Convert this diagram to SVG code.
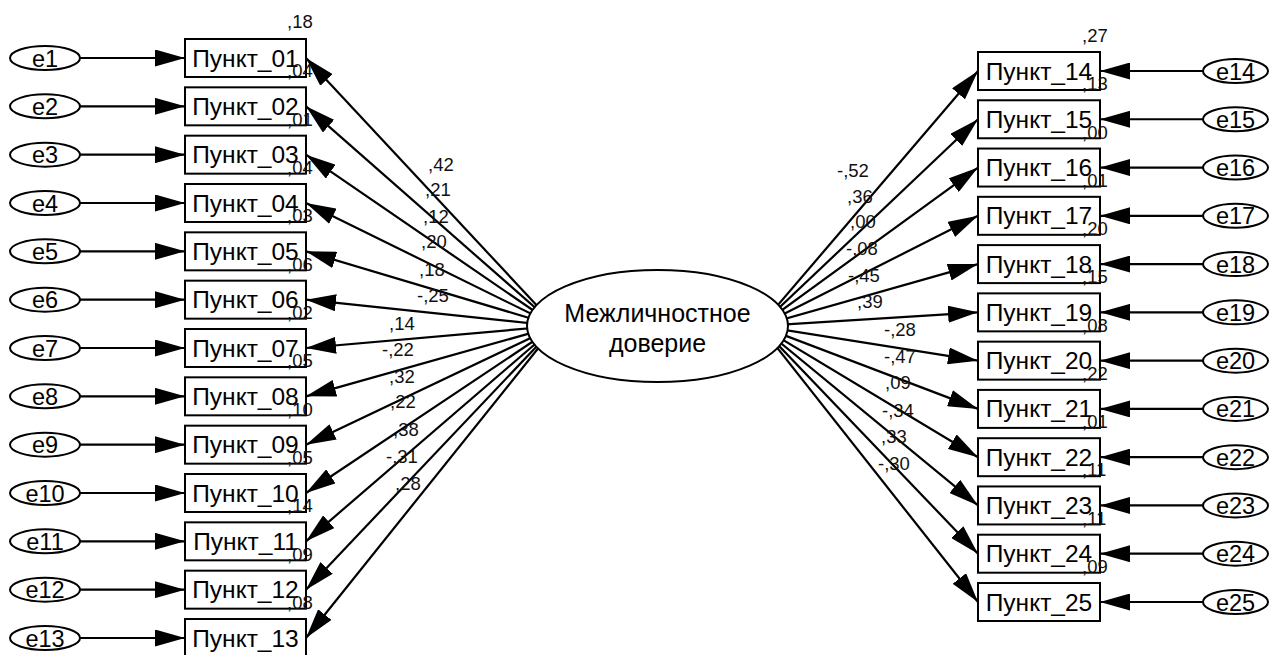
<svg xmlns="http://www.w3.org/2000/svg" width="1271" height="655" viewBox="0 0 1271 655">
<defs>
<style>
.c{stroke:#000;stroke-width:2.2;fill:none;marker-end:url(#ah)}
.b{fill:#fff;stroke:#000;stroke-width:2}
.t{font-family:"Liberation Sans",Arial,sans-serif;font-size:24.5px;fill:#000;text-anchor:middle}
.e{font-family:"Liberation Sans",Arial,sans-serif;font-size:23.5px;fill:#000;text-anchor:middle}
.n{font-family:"Liberation Sans",Arial,sans-serif;font-size:18.5px;fill:#111}
</style>
<marker id="ah" markerUnits="userSpaceOnUse" markerWidth="30" markerHeight="17" viewBox="0 0 30 17" refX="30" refY="8.5" orient="auto">
<path d="M0,0 L30,8.5 L0,17 z" fill="#000"/>
</marker>
</defs>
<rect width="1271" height="655" fill="#fff"/>
<g id="connectors">
<line class="c" x1="80" y1="58" x2="185" y2="58"/>
<line class="c" x1="80" y1="106.33" x2="185" y2="106.33"/>
<line class="c" x1="80" y1="154.67" x2="185" y2="154.67"/>
<line class="c" x1="80" y1="203" x2="185" y2="203"/>
<line class="c" x1="80" y1="251.33" x2="185" y2="251.33"/>
<line class="c" x1="80" y1="299.67" x2="185" y2="299.67"/>
<line class="c" x1="80" y1="348" x2="185" y2="348"/>
<line class="c" x1="80" y1="396.33" x2="185" y2="396.33"/>
<line class="c" x1="80" y1="444.67" x2="185" y2="444.67"/>
<line class="c" x1="80" y1="493" x2="185" y2="493"/>
<line class="c" x1="80" y1="541.33" x2="185" y2="541.33"/>
<line class="c" x1="80" y1="589.67" x2="185" y2="589.67"/>
<line class="c" x1="80" y1="638" x2="185" y2="638"/>
<line class="c" x1="1203" y1="71" x2="1100" y2="71"/>
<line class="c" x1="1203" y1="119.27" x2="1100" y2="119.27"/>
<line class="c" x1="1203" y1="167.55" x2="1100" y2="167.55"/>
<line class="c" x1="1203" y1="215.82" x2="1100" y2="215.82"/>
<line class="c" x1="1203" y1="264.1" x2="1100" y2="264.1"/>
<line class="c" x1="1203" y1="312.36" x2="1100" y2="312.36"/>
<line class="c" x1="1203" y1="360.64" x2="1100" y2="360.64"/>
<line class="c" x1="1203" y1="408.9" x2="1100" y2="408.9"/>
<line class="c" x1="1203" y1="457.2" x2="1100" y2="457.2"/>
<line class="c" x1="1203" y1="505.45" x2="1100" y2="505.45"/>
<line class="c" x1="1203" y1="553.7" x2="1100" y2="553.7"/>
<line class="c" x1="1203" y1="602" x2="1100" y2="602"/>
<line class="c" x1="556" y1="326" x2="306" y2="58"/>
<line class="c" x1="556" y1="326" x2="306" y2="106.33"/>
<line class="c" x1="556" y1="326" x2="306" y2="154.67"/>
<line class="c" x1="556" y1="326" x2="306" y2="203"/>
<line class="c" x1="556" y1="326" x2="306" y2="251.33"/>
<line class="c" x1="556" y1="326" x2="306" y2="299.67"/>
<line class="c" x1="556" y1="326" x2="306" y2="348"/>
<line class="c" x1="556" y1="326" x2="306" y2="396.33"/>
<line class="c" x1="556" y1="326" x2="306" y2="444.67"/>
<line class="c" x1="556" y1="326" x2="306" y2="493"/>
<line class="c" x1="556" y1="326" x2="306" y2="541.33"/>
<line class="c" x1="556" y1="326" x2="306" y2="589.67"/>
<line class="c" x1="556" y1="326" x2="306" y2="638"/>
<line class="c" x1="760" y1="326" x2="978" y2="71"/>
<line class="c" x1="760" y1="326" x2="978" y2="119.27"/>
<line class="c" x1="760" y1="326" x2="978" y2="167.55"/>
<line class="c" x1="760" y1="326" x2="978" y2="215.82"/>
<line class="c" x1="760" y1="326" x2="978" y2="264.1"/>
<line class="c" x1="760" y1="326" x2="978" y2="312.36"/>
<line class="c" x1="760" y1="326" x2="978" y2="360.64"/>
<line class="c" x1="760" y1="326" x2="978" y2="408.9"/>
<line class="c" x1="760" y1="326" x2="978" y2="457.2"/>
<line class="c" x1="760" y1="326" x2="978" y2="505.45"/>
<line class="c" x1="760" y1="326" x2="978" y2="553.7"/>
<line class="c" x1="760" y1="326" x2="978" y2="602"/>
</g>
<g id="loading-labels" class="n">
<text x="428" y="171">,42</text>
<text x="425" y="196">,21</text>
<text x="423" y="223">,12</text>
<text x="421" y="248">,20</text>
<text x="419" y="276">,18</text>
<text x="417" y="302">-,25</text>
<text x="389" y="330">,14</text>
<text x="382" y="356">-,22</text>
<text x="389" y="383">,32</text>
<text x="390" y="408">,22</text>
<text x="393" y="436">,38</text>
<text x="386" y="463">-,31</text>
<text x="395" y="490">,28</text>
<text x="837" y="177">-,52</text>
<text x="847" y="203">,36</text>
<text x="850" y="228">,00</text>
<text x="846" y="255">-,08</text>
<text x="848" y="282">-,45</text>
<text x="857" y="308">,39</text>
<text x="884" y="336">-,28</text>
<text x="884" y="363">-,47</text>
<text x="885" y="389">,09</text>
<text x="882" y="417">-,34</text>
<text x="881" y="443">,33</text>
<text x="878" y="470">-,30</text>
</g>
<g id="latent">
<ellipse class="b" cx="657.5" cy="326" rx="130.5" ry="56"/>
<text class="t" x="657.5" y="322" style="font-size:25px">Межличностное</text>
<text class="t" x="657.5" y="352" style="font-size:25px">доверие</text>
</g>
<g id="e1"><ellipse class="b" cx="45" cy="58" rx="35" ry="12"/><text class="e" x="45" y="66.5">e1</text></g>
<g id="e2"><ellipse class="b" cx="45" cy="106.33" rx="35" ry="12"/><text class="e" x="45" y="114.83">e2</text></g>
<g id="e3"><ellipse class="b" cx="45" cy="154.67" rx="35" ry="12"/><text class="e" x="45" y="163.17">e3</text></g>
<g id="e4"><ellipse class="b" cx="45" cy="203" rx="35" ry="12"/><text class="e" x="45" y="211.5">e4</text></g>
<g id="e5"><ellipse class="b" cx="45" cy="251.33" rx="35" ry="12"/><text class="e" x="45" y="259.83">e5</text></g>
<g id="e6"><ellipse class="b" cx="45" cy="299.67" rx="35" ry="12"/><text class="e" x="45" y="308.17">e6</text></g>
<g id="e7"><ellipse class="b" cx="45" cy="348" rx="35" ry="12"/><text class="e" x="45" y="356.5">e7</text></g>
<g id="e8"><ellipse class="b" cx="45" cy="396.33" rx="35" ry="12"/><text class="e" x="45" y="404.83">e8</text></g>
<g id="e9"><ellipse class="b" cx="45" cy="444.67" rx="35" ry="12"/><text class="e" x="45" y="453.17">e9</text></g>
<g id="e10"><ellipse class="b" cx="45" cy="493" rx="35" ry="12"/><text class="e" x="45" y="501.5">e10</text></g>
<g id="e11"><ellipse class="b" cx="45" cy="541.33" rx="35" ry="12"/><text class="e" x="45" y="549.83">e11</text></g>
<g id="e12"><ellipse class="b" cx="45" cy="589.67" rx="35" ry="12"/><text class="e" x="45" y="598.17">e12</text></g>
<g id="e13"><ellipse class="b" cx="45" cy="638" rx="35" ry="12"/><text class="e" x="45" y="646.5">e13</text></g>
<g id="e14"><ellipse class="b" cx="1235.5" cy="71" rx="32.5" ry="12"/><text class="e" x="1235.5" y="79.5">e14</text></g>
<g id="e15"><ellipse class="b" cx="1235.5" cy="119.27" rx="32.5" ry="12"/><text class="e" x="1235.5" y="127.77">e15</text></g>
<g id="e16"><ellipse class="b" cx="1235.5" cy="167.55" rx="32.5" ry="12"/><text class="e" x="1235.5" y="176.05">e16</text></g>
<g id="e17"><ellipse class="b" cx="1235.5" cy="215.82" rx="32.5" ry="12"/><text class="e" x="1235.5" y="224.32">e17</text></g>
<g id="e18"><ellipse class="b" cx="1235.5" cy="264.1" rx="32.5" ry="12"/><text class="e" x="1235.5" y="272.6">e18</text></g>
<g id="e19"><ellipse class="b" cx="1235.5" cy="312.36" rx="32.5" ry="12"/><text class="e" x="1235.5" y="320.86">e19</text></g>
<g id="e20"><ellipse class="b" cx="1235.5" cy="360.64" rx="32.5" ry="12"/><text class="e" x="1235.5" y="369.14">e20</text></g>
<g id="e21"><ellipse class="b" cx="1235.5" cy="408.9" rx="32.5" ry="12"/><text class="e" x="1235.5" y="417.4">e21</text></g>
<g id="e22"><ellipse class="b" cx="1235.5" cy="457.2" rx="32.5" ry="12"/><text class="e" x="1235.5" y="465.7">e22</text></g>
<g id="e23"><ellipse class="b" cx="1235.5" cy="505.45" rx="32.5" ry="12"/><text class="e" x="1235.5" y="513.95">e23</text></g>
<g id="e24"><ellipse class="b" cx="1235.5" cy="553.7" rx="32.5" ry="12"/><text class="e" x="1235.5" y="562.2">e24</text></g>
<g id="e25"><ellipse class="b" cx="1235.5" cy="602" rx="32.5" ry="12"/><text class="e" x="1235.5" y="610.5">e25</text></g>
<g id="p01"><rect class="b" x="185" y="39" width="121" height="38"/><text class="t" x="245.5" y="66.5">Пункт_01</text><text class="n" x="287" y="28">,18</text></g>
<g id="p02"><rect class="b" x="185" y="87.33" width="121" height="38"/><text class="t" x="245.5" y="114.83">Пункт_02</text><text class="n" x="287" y="77.33">,04</text></g>
<g id="p03"><rect class="b" x="185" y="135.67" width="121" height="38"/><text class="t" x="245.5" y="163.17">Пункт_03</text><text class="n" x="287" y="125.67">,01</text></g>
<g id="p04"><rect class="b" x="185" y="184" width="121" height="38"/><text class="t" x="245.5" y="211.5">Пункт_04</text><text class="n" x="287" y="174">,04</text></g>
<g id="p05"><rect class="b" x="185" y="232.33" width="121" height="38"/><text class="t" x="245.5" y="259.83">Пункт_05</text><text class="n" x="287" y="222.33">,03</text></g>
<g id="p06"><rect class="b" x="185" y="280.67" width="121" height="38"/><text class="t" x="245.5" y="308.17">Пункт_06</text><text class="n" x="287" y="270.67">,06</text></g>
<g id="p07"><rect class="b" x="185" y="329" width="121" height="38"/><text class="t" x="245.5" y="356.5">Пункт_07</text><text class="n" x="287" y="319">,02</text></g>
<g id="p08"><rect class="b" x="185" y="377.33" width="121" height="38"/><text class="t" x="245.5" y="404.83">Пункт_08</text><text class="n" x="287" y="367.33">,05</text></g>
<g id="p09"><rect class="b" x="185" y="425.67" width="121" height="38"/><text class="t" x="245.5" y="453.17">Пункт_09</text><text class="n" x="287" y="415.67">,10</text></g>
<g id="p10"><rect class="b" x="185" y="474" width="121" height="38"/><text class="t" x="245.5" y="501.5">Пункт_10</text><text class="n" x="287" y="464">,05</text></g>
<g id="p11"><rect class="b" x="185" y="522.33" width="121" height="38"/><text class="t" x="245.5" y="549.83">Пункт_11</text><text class="n" x="287" y="512.33">,14</text></g>
<g id="p12"><rect class="b" x="185" y="570.67" width="121" height="38"/><text class="t" x="245.5" y="598.17">Пункт_12</text><text class="n" x="287" y="560.67">,09</text></g>
<g id="p13"><rect class="b" x="185" y="619" width="121" height="38"/><text class="t" x="245.5" y="646.5">Пункт_13</text><text class="n" x="287" y="609">,08</text></g>
<g id="p14"><rect class="b" x="978" y="52" width="122" height="38"/><text class="t" x="1039" y="79.5">Пункт_14</text><text class="n" x="1082" y="42">,27</text></g>
<g id="p15"><rect class="b" x="978" y="100.27" width="122" height="38"/><text class="t" x="1039" y="127.77">Пункт_15</text><text class="n" x="1082" y="90.27">,13</text></g>
<g id="p16"><rect class="b" x="978" y="148.55" width="122" height="38"/><text class="t" x="1039" y="176.05">Пункт_16</text><text class="n" x="1082" y="138.55">,00</text></g>
<g id="p17"><rect class="b" x="978" y="196.82" width="122" height="38"/><text class="t" x="1039" y="224.32">Пункт_17</text><text class="n" x="1082" y="186.82">,01</text></g>
<g id="p18"><rect class="b" x="978" y="245.1" width="122" height="38"/><text class="t" x="1039" y="272.6">Пункт_18</text><text class="n" x="1082" y="235.1">,20</text></g>
<g id="p19"><rect class="b" x="978" y="293.36" width="122" height="38"/><text class="t" x="1039" y="320.86">Пункт_19</text><text class="n" x="1082" y="283.36">,15</text></g>
<g id="p20"><rect class="b" x="978" y="341.64" width="122" height="38"/><text class="t" x="1039" y="369.14">Пункт_20</text><text class="n" x="1082" y="331.64">,08</text></g>
<g id="p21"><rect class="b" x="978" y="389.9" width="122" height="38"/><text class="t" x="1039" y="417.4">Пункт_21</text><text class="n" x="1082" y="379.9">,22</text></g>
<g id="p22"><rect class="b" x="978" y="438.2" width="122" height="38"/><text class="t" x="1039" y="465.7">Пункт_22</text><text class="n" x="1082" y="428.2">,01</text></g>
<g id="p23"><rect class="b" x="978" y="486.45" width="122" height="38"/><text class="t" x="1039" y="513.95">Пункт_23</text><text class="n" x="1082" y="476.45">,11</text></g>
<g id="p24"><rect class="b" x="978" y="534.7" width="122" height="38"/><text class="t" x="1039" y="562.2">Пункт_24</text><text class="n" x="1082" y="524.7">,11</text></g>
<g id="p25"><rect class="b" x="978" y="583" width="122" height="38"/><text class="t" x="1039" y="610.5">Пункт_25</text><text class="n" x="1082" y="573">,09</text></g>
</svg>
